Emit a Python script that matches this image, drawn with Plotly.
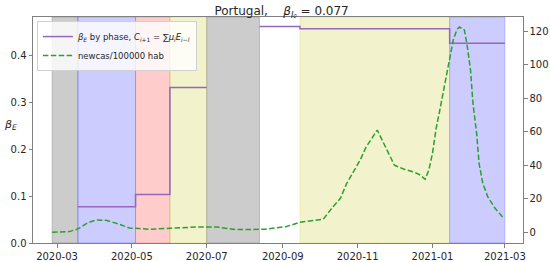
import plotly.graph_objects as go

# ---- phases (background spans and beta_E per phase) ----
phase_starts = ["2020-02-26", "2020-03-18", "2020-05-04", "2020-06-01", "2020-07-01",
                "2020-08-13", "2020-09-15", "2021-01-15"]
phase_ends = ["2020-03-18", "2020-05-04", "2020-06-01", "2020-07-01", "2020-08-13",
              "2020-09-15", "2021-01-15", "2021-03-01"]
phase_colors = ["rgba(128,128,128,0.4)", "rgba(0,0,255,0.2)", "rgba(255,0,0,0.2)",
                "rgba(191,191,0,0.2)", "rgba(128,128,128,0.4)", None,
                "rgba(191,191,0,0.2)", "rgba(0,0,255,0.2)"]
phase_beta = [None, 0.077, 0.103, 0.331, None, 0.461, 0.456, 0.425]

# ---- new cases per 100000 inhabitants ----
case_dates = ["2020-02-26", "2020-03-04", "2020-03-11", "2020-03-18", "2020-03-26",
              "2020-04-02", "2020-04-10", "2020-04-20", "2020-04-29", "2020-05-07",
              "2020-05-15", "2020-06-01", "2020-06-24", "2020-07-09", "2020-07-25",
              "2020-08-18", "2020-09-04", "2020-09-15", "2020-10-04", "2020-10-12",
              "2020-10-18", "2020-10-23", "2020-11-03", "2020-11-08", "2020-11-17",
              "2020-12-01", "2020-12-09", "2020-12-17", "2020-12-22", "2020-12-26",
              "2020-12-29", "2021-01-01", "2021-01-04", "2021-01-07", "2021-01-10",
              "2021-01-14", "2021-01-18", "2021-01-21", "2021-01-23", "2021-01-27",
              "2021-01-29", "2021-02-01", "2021-02-03", "2021-02-06", "2021-02-08",
              "2021-02-11", "2021-02-15", "2021-02-21", "2021-02-28"]
case_values = [0.0, 0.1, 0.4, 2.0, 5.7,
               7.3, 7.2, 5.0, 2.6, 2.2,
               1.8, 2.4, 3.2, 3.2, 1.6,
               1.8, 3.4, 6.0, 7.8, 15.3,
               20.3, 29.0, 43.0, 51.0, 61.0,
               40.0, 37.6, 36.0, 34.2, 31.6,
               37.0, 47.0, 62.0, 73.0, 84.0,
               99.0, 115.0, 121.0, 122.5, 120.8,
               112.8, 97.0, 77.0, 59.0, 41.0,
               29.3, 21.3, 14.3, 8.4]

x_tick_vals = ["2020-03-01", "2020-05-01", "2020-07-01", "2020-09-01",
               "2020-11-01", "2021-01-01", "2021-03-01"]
x_tick_text = ["2020-03", "2020-05", "2020-07", "2020-09", "2020-11", "2021-01", "2021-03"]
y_left_ticks = [0.0, 0.1, 0.2, 0.3, 0.4]
y_right_ticks = [0, 20, 40, 60, 80, 100, 120]

title_text = "Portugal,\u00a0\u00a0\u00a0 <i>β<sub>I₀</sub></i> = 0.077"
beta_label = "<i>β<sub>E</sub></i> by phase, <i>C</i><sub><i>i</i>+1</sub> = ∑<i>μ<sub>i</sub>E<sub>i−l</sub></i>"
case_label = "newcas/100000 hab"

# build the step line from phase data
bx, by = [], []
prev_has = False
for s, e, b in zip(phase_starts, phase_ends, phase_beta):
    if b is None:
        if prev_has:
            bx.append(None)
            by.append(None)
        prev_has = False
        continue
    bx += [s, e]
    by += [b, b]
    prev_has = True

AX = "#808080"
FONT = "DejaVu Sans"

fig = go.Figure()
fig.add_trace(go.Scatter(x=bx, y=by, mode="lines", name=beta_label,
                         line=dict(color="#9467bd", width=1.5), connectgaps=False))
fig.add_trace(go.Scatter(x=case_dates, y=case_values, mode="lines", name=case_label,
                         yaxis="y2",
                         line=dict(color="#2ca02c", width=1.5, dash="5.5px,2.4px")))

shapes = []
for s, e, c in zip(phase_starts, phase_ends, phase_colors):
    if c is None:
        continue
    shapes.append(dict(type="rect", xref="x", yref="paper", x0=s, x1=e, y0=0, y1=1,
                       fillcolor=c, line=dict(color=c, width=1), layer="below"))

fig.update_layout(
    width=550, height=262,
    margin=dict(l=33, r=27, t=17, b=19, autoexpand=False),
    paper_bgcolor="white", plot_bgcolor="white",
    font=dict(family=FONT, size=10, color="#262626"),
    title=dict(text=title_text, x=0.512, xanchor="center", y=0.958, yanchor="middle",
               font=dict(size=12, color="#262626"), automargin=False),
    shapes=shapes,
    showlegend=True,
    legend=dict(x=0.008, y=0.982, xanchor="left", yanchor="top",
                bgcolor="rgba(255,255,255,0.8)", bordercolor="#d0d0d0", borderwidth=1,
                font=dict(size=8.5), itemwidth=30, tracegroupgap=0,
                traceorder="normal"),
    xaxis=dict(type="date", range=["2020-02-10 10:00", "2021-03-15 19:00"],
               tickvals=x_tick_vals, ticktext=x_tick_text, automargin=False,
               showgrid=False, zeroline=False, showline=True, linecolor=AX, linewidth=1,
               mirror=True, ticks="outside", ticklen=3.5, tickcolor=AX),
    yaxis=dict(range=[0, 0.481], tickvals=y_left_ticks, automargin=False,
               ticktext=[f"{v:.1f}" for v in y_left_ticks],
               showgrid=False, zeroline=False, showline=True, linecolor=AX, linewidth=1,
               ticks="outside", ticklen=3.5, tickcolor=AX),
    yaxis2=dict(range=[-6.4, 128.5], tickvals=y_right_ticks, overlaying="y", side="right",
                automargin=False,
                showgrid=False, zeroline=False, showline=True, linecolor=AX, linewidth=1,
                ticks="outside", ticklen=3.5, tickcolor=AX),
    annotations=[dict(text="<i>β<sub>E</sub></i>", xref="paper", yref="paper",
                      x=-0.045, y=0.52, xanchor="center", yanchor="middle",
                      showarrow=False, font=dict(size=11, color="#262626"))],
)

fig.write_html("out.html", config={"displayModeBar": False},
               post_script="document.body.style.margin='0';document.body.style.padding='0';"
                           "document.body.style.overflow='hidden';")
